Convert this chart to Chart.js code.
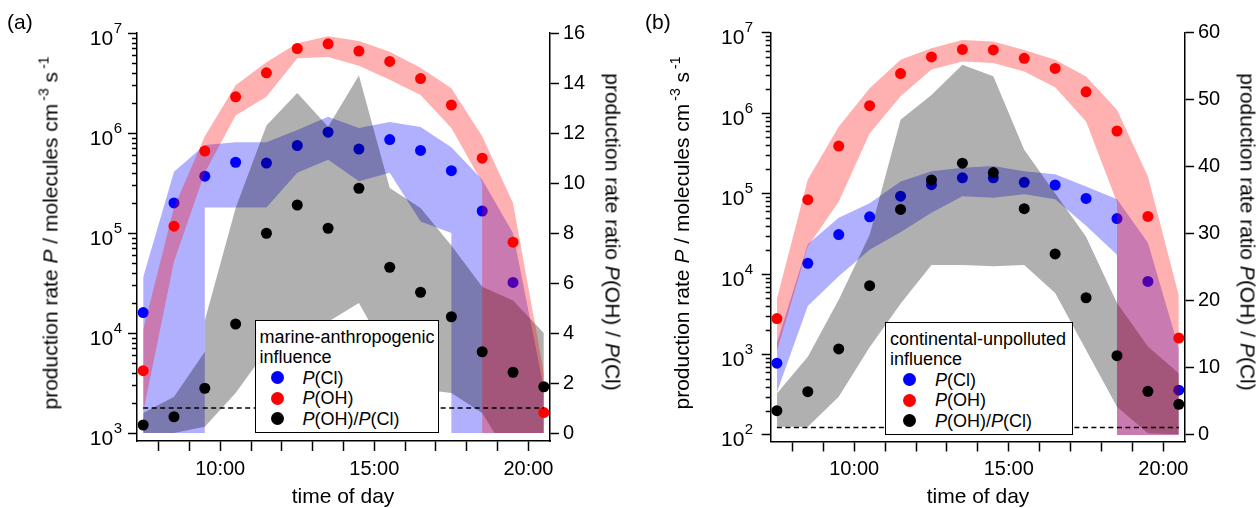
<!DOCTYPE html>
<html>
<head>
<meta charset="utf-8">
<script src="https://cdn.jsdelivr.net/npm/chart.js@4.4.1/dist/chart.umd.min.js"></script>
<style>
  body { margin: 0; background: #fff; font-family: 'Liberation Sans', Arial, sans-serif; color: #000; }
  #wrap { position: relative; width: 1259px; height: 508px; overflow: hidden; }
  canvas { position: absolute; top: 0; }
  .lab { position: absolute; white-space: nowrap; font-size: 21px; line-height: 1; }
  .rotL { transform: translate(-50%, -50%) rotate(-90deg); }
  .rotR { transform: translate(-50%, -50%) rotate(90deg); }
  .ctr { transform: translate(-50%, -50%); }
  .lab sup { font-size: 14px; vertical-align: baseline; position: relative; top: -9px; margin-left: 3px; }
  .legend { position: absolute; border: 1.5px solid #000; background: #fff; box-sizing: border-box;
            font-size: 18px; line-height: 20.5px; white-space: nowrap; }
  .legend .row { position: relative; }
  .legend .dot { position: absolute; top: 3.5px; width: 13px; height: 13px; border-radius: 50%; }
</style>
</head>
<body>
<div id="wrap">
  <canvas id="chartA" width="630" height="508" style="left:0"></canvas>
  <canvas id="chartB" width="629" height="508" style="left:630px"></canvas>

  <div class="lab" style="left:7px;top:11px">(a)</div>
  <div class="lab rotL" style="left:50px;top:233px">production rate <i>P</i> / molecules cm<sup>-3</sup> s<sup>-1</sup></div>
  <div class="lab rotR" style="left:613px;top:232px">production rate ratio <i>P</i>(OH) / <i>P</i>(Cl)</div>
  <div class="lab ctr" style="left:343px;top:495px">time of day</div>

  <div class="lab" style="left:645px;top:11px">(b)</div>
  <div class="lab rotL" style="left:681px;top:233px">production rate <i>P</i> / molecules cm<sup>-3</sup> s<sup>-1</sup></div>
  <div class="lab rotR" style="left:1248px;top:232px">production rate ratio <i>P</i>(OH) / <i>P</i>(Cl)</div>
  <div class="lab ctr" style="left:978px;top:495px">time of day</div>

  <div class="legend" style="left:255px;top:320px;width:184px;height:113px;padding:5.5px 0 0 3.5px">
    <div>marine-anthropogenic</div>
    <div>influence</div>
    <div class="row" style="padding-left:43px"><span class="dot" style="left:11px;background:#0000ff"></span><i>P</i>(Cl)</div>
    <div class="row" style="padding-left:43px"><span class="dot" style="left:11px;background:#ff0000"></span><i>P</i>(OH)</div>
    <div class="row" style="padding-left:43px"><span class="dot" style="left:11px;background:#000"></span><i>P</i>(OH)/<i>P</i>(Cl)</div>
  </div>
  <div class="legend" style="left:885px;top:321.7px;width:188px;height:113px;padding:6px 0 0 4px">
    <div>continental-unpolluted</div>
    <div>influence</div>
    <div class="row" style="padding-left:45px"><span class="dot" style="left:13px;background:#0000ff"></span><i>P</i>(Cl)</div>
    <div class="row" style="padding-left:45px"><span class="dot" style="left:13px;background:#ff0000"></span><i>P</i>(OH)</div>
    <div class="row" style="padding-left:45px"><span class="dot" style="left:13px;background:#000"></span><i>P</i>(OH)/<i>P</i>(Cl)</div>
  </div>
</div>

<script>
// hour of day of each hourly mean
var hours = [7.5, 8.5, 9.5, 10.5, 11.5, 12.5, 13.5, 14.5, 15.5, 16.5, 17.5, 18.5, 19.5, 20.5];
var hourTicks = [8, 9, 10, 11, 12, 13, 14, 15, 16, 17, 18, 19, 20];
var refRatio = 1;

// (a) marine-anthropogenic influence
var pClA = [1.6e4, 2.0e5, 3.7e5, 5.1e5, 5.0e5, 7.5e5, 1.02e6, 6.9e5, 8.6e5, 6.7e5, 4.2e5, 1.66e5, 3.2e4, null];
var pOHA = [4.2e3, 1.17e5, 6.6e5, 2.3e6, 4.0e6, 7.0e6, 7.8e6, 6.6e6, 5.2e6, 3.5e6, 1.9e6, 5.6e5, 8.1e4, 1.6e3];
var ratioA = [0.32, 0.65, 1.79, 4.36, 7.99, 9.12, 8.19, 9.79, 6.63, 5.63, 4.65, 3.25, 2.43, 1.85];
// shaded ranges, [hour, value]
var pClA_hi = [[7.5, 3.6e4], [8.5, 4.1e5], [9.5, 7.6e5], [10.5, 8.1e5], [11.5, 8.1e5], [12.5, 1.07e6], [13.5, 1.45e6],
               [14.5, 1.12e6], [15.5, 1.29e6], [16.5, 1.15e6], [17.5, 7.2e5], [18.5, 3.4e5], [19.5, 1.0e5], [20.5, 2.8e3]];
var pClA_lo = [[7.5, 1e3], [8.5, 1e3], [9.5, 1e3], [9.5, 1.8e5], [10.5, 1.8e5], [11.5, 1.8e5], [12.5, 4.0e5], [13.5, 5.4e5],
               [14.5, 3.3e5], [15.5, 4.0e5], [16.5, 1.3e5], [17.5, 1.0e5], [17.5, 1e3], [18.5, 1e3], [19.5, 1e3], [20.5, 1e3]];
var pOHA_hi = [[7.5, 1.07e4], [8.5, 1.8e5], [9.5, 9.3e5], [10.5, 3.0e6], [11.5, 5.1e6], [12.5, 7.9e6], [13.5, 9.3e6],
               [14.5, 8.3e6], [15.5, 6.5e6], [16.5, 4.5e6], [17.5, 2.8e6], [18.5, 9.3e5], [19.5, 2.0e5], [20.5, 4.0e3]];
var pOHA_lo = [[7.5, 1.6e3], [8.5, 5.2e4], [9.5, 4.0e5], [10.5, 1.5e6], [11.5, 2.3e6], [12.5, 5.6e6], [13.5, 5.75e6],
               [14.5, 4.7e6], [15.5, 3.4e6], [16.5, 2.4e6], [17.5, 1.12e6], [18.5, 3.2e5], [18.5, 1e3], [19.5, 1e3], [20.5, 1e3]];
var ratioA_hi = [[7.5, 0.8], [8.5, 1.45], [9.5, 3.25], [9.5, 4.5], [10.5, 9.0], [11.5, 12.3], [12.5, 13.6], [13.5, 12.25],
                 [14.5, 14.3], [15.5, 9.8], [16.5, 9.0], [17.5, 7.5], [18.5, 5.85], [19.5, 5.3], [20.5, 4.0]];
var ratioA_lo = [[7.5, 0], [8.5, 0], [9.5, 0.25], [10.5, 1.6], [11.5, 3.3], [12.5, 3.8], [13.5, 4.45], [14.5, 5.2],
                 [15.5, 3.0], [16.5, 1.75], [17.5, 1.6], [18.5, 0.8], [19.5, -1.2], [20.5, -1.2]];

// (b) continental-unpolluted influence
var pClB = [7.8e2, 1.36e4, 3.1e4, 5.15e4, 9.3e4, 1.29e5, 1.57e5, 1.57e5, 1.38e5, 1.28e5, 8.7e4, 4.9e4, 8.1e3, 3.6e2];
var pOHB = [2.8e3, 8.4e4, 3.9e5, 1.24e6, 3.1e6, 5.0e6, 6.2e6, 6.1e6, 4.8e6, 3.6e6, 1.84e6, 6.0e5, 5.2e4, 1.6e3];
var ratioB = [3.53, 6.37, 12.75, 22.2, 33.6, 38.0, 40.5, 39.1, 33.7, 26.95, 20.4, 11.75, 6.42, 4.48];
var pClB_hi = [[7.5, 1.4e3], [8.5, 2.35e4], [9.5, 5.0e4], [10.5, 7.6e4], [11.5, 1.41e5], [12.5, 1.9e5], [13.5, 2.1e5],
               [14.5, 2.2e5], [15.5, 1.9e5], [16.5, 1.74e5], [17.5, 1.23e5], [18.5, 8.5e4], [19.5, 2.45e4], [20.5, 1.2e3]];
var pClB_lo = [[7.5, 3.4e2], [8.5, 4.0e3], [9.5, 9.4e3], [10.5, 2.0e4], [11.5, 3.3e4], [12.5, 5.8e4], [13.5, 9.3e4],
               [14.5, 8.9e4], [15.5, 9.8e4], [16.5, 8.5e4], [17.5, 4.0e4], [18.5, 1.74e4], [18.5, 1e2], [19.5, 1e2], [20.5, 1e2]];
var pOHB_hi = [[7.5, 4.9e3], [8.5, 1.5e5], [9.5, 6.8e5], [10.5, 2.04e6], [11.5, 4.6e6], [12.5, 6.4e6], [13.5, 8.1e6],
               [14.5, 7.8e6], [15.5, 6.1e6], [16.5, 4.6e6], [17.5, 2.85e6], [18.5, 1.1e6], [19.5, 1.64e5], [20.5, 5.4e3]];
var pOHB_lo = [[7.5, 1.1e3], [8.5, 2.2e4], [9.5, 7.9e4], [10.5, 5.6e5], [11.5, 1.62e6], [12.5, 3.5e6], [13.5, 4.4e6],
               [14.5, 4.2e6], [15.5, 3.3e6], [16.5, 2.1e6], [17.5, 7.9e5], [18.5, 7.8e4], [18.5, 1e2], [19.5, 1e2], [20.5, 1e2]];
var ratioB_hi = [[7.5, 6.1], [8.5, 11.6], [9.5, 20.1], [10.5, 29.8], [11.5, 47.0], [12.5, 50.7], [13.5, 55.2],
                 [14.5, 53.5], [15.5, 42.5], [16.5, 36.0], [17.5, 29.5], [18.5, 19.6], [19.5, 13.1], [20.5, 9.1]];
var ratioB_lo = [[7.5, 1.14], [8.5, 1.14], [9.5, 5.6], [10.5, 13.0], [11.5, 19.5], [12.5, 25.3], [13.5, 25.3],
                 [14.5, 25.1], [15.5, 25.3], [16.5, 21.1], [17.5, 12.6], [18.5, 4.1], [19.5, 0.15], [20.5, 0]];

var FONT = 'Liberation Sans';
var blueFill = 'rgba(0, 0, 255, 0.31)';
var redFill = 'rgba(255, 0, 0, 0.31)';
var greyFill = 'rgba(0, 0, 0, 0.31)';

function pts(xs, ys) {
  return xs.map(function (x, i) { return { x: x, y: ys[i] }; });
}
function pairs(list) {
  return list.map(function (p) { return { x: p[0], y: p[1] }; });
}

// lower edge fills up to the upper edge (next dataset)
function band(hi, lo, axis, color, order) {
  return [
    { data: pairs(lo), yAxisID: axis, borderColor: 'transparent', borderWidth: 0, pointRadius: 0,
      backgroundColor: color, fill: '+1', order: order },
    { data: pairs(hi), yAxisID: axis, borderColor: 'transparent', borderWidth: 0, pointRadius: 0,
      fill: false, order: order }
  ];
}
function dots(ys, axis, color, order) {
  return { data: pts(hours, ys), yAxisID: axis, showLine: false, pointRadius: 5.5, pointBorderWidth: 0,
           pointBackgroundColor: color, borderColor: color, order: order };
}

// bands are cut at the bottom of the data range, the x axis sits a little lower
var floorClip = {
  id: 'floorClip',
  beforeDatasetsDraw: function (chart, args, opts) {
    var a = chart.chartArea;
    var yb = chart.scales.yL.getPixelForValue(opts.floor);
    chart.ctx.save();
    chart.ctx.beginPath();
    chart.ctx.rect(a.left, a.top, a.right - a.left, yb - a.top);
    chart.ctx.clip();
  },
  afterDatasetsDraw: function (chart) {
    chart.ctx.restore();
  }
};

// minor ticks and 10^n labels for the log axis
var logAxis = {
  id: 'logAxis',
  afterDraw: function (chart, args, opts) {
    var s = chart.scales.yL;
    var ctx = chart.ctx;
    var x0 = s.right;
    ctx.save();
    ctx.strokeStyle = '#000';
    ctx.fillStyle = '#000';
    ctx.lineWidth = 1.5;
    for (var e = opts.lo; e <= opts.hi; e++) {
      if (e < opts.hi) {
        for (var m = 2; m < 10; m++) {
          var ym = Math.round(s.getPixelForValue(m * Math.pow(10, e))) + 0.5;
          ctx.beginPath();
          ctx.moveTo(x0 - 5, ym);
          ctx.lineTo(x0, ym);
          ctx.stroke();
        }
      }
      var y = s.getPixelForValue(Math.pow(10, e));
      ctx.textAlign = 'right';
      ctx.textBaseline = 'alphabetic';
      ctx.font = '15px "' + FONT + '"';
      var ex = String(e);
      var w = ctx.measureText(ex).width;
      ctx.fillText(ex, x0 - opts.gap, y - 0.5);
      ctx.font = '21px "' + FONT + '"';
      ctx.fillText('10', x0 - opts.gap - w - 0.5, y + 11.5);
    }
    ctx.restore();
  }
};

function drawPanel(id, p) {
  var datasets = []
    .concat(band(p.clHi, p.clLo, 'yL', blueFill, 6))
    .concat([dots(p.cl, 'yL', '#0000ff', 5)])
    .concat(band(p.ratioHi, p.ratioLo, 'yR', greyFill, 4))
    .concat(band(p.ohHi, p.ohLo, 'yL', redFill, 3))
    .concat([dots(p.oh, 'yL', '#ff0000', 2)])
    .concat([{ data: [{ x: hours[0], y: refRatio }, { x: hours[hours.length - 1], y: refRatio }], yAxisID: 'yR',
               borderColor: '#000', borderWidth: 1.5, borderDash: [5, 3.5], pointRadius: 0, fill: false, order: 1 }])
    .concat([dots(p.ratio, 'yR', '#000000', 0)]);

  var axisGrid = { display: true, drawOnChartArea: false, drawTicks: true, tickLength: 9, tickWidth: 1.5, tickColor: '#000' };
  var axisBorder = { display: true, color: '#000', width: 1.5 };

  return new Chart(document.getElementById(id), {
    type: 'line',
    data: { datasets: datasets },
    plugins: [floorClip, logAxis],
    options: {
      responsive: false,
      animation: false,
      layout: { padding: { top: p.top, left: 0, right: 0, bottom: 0 } },
      elements: { line: { tension: 0 } },
      plugins: {
        legend: { display: false },
        tooltip: { enabled: false },
        floorClip: { floor: Math.pow(10, p.logLo) },
        logAxis: { lo: p.logLo, hi: 7, gap: p.labelGap }
      },
      scales: {
        x: {
          type: 'linear', min: 7.3, max: 20.7,
          afterBuildTicks: function (s) { s.ticks = hourTicks.map(function (v) { return { value: v }; }); },
          afterFit: function (s) { s.height = p.bottomH; },
          grid: Object.assign({}, axisGrid, { tickLength: 10 }),
          border: axisBorder,
          ticks: { autoSkip: false, maxRotation: 0, padding: 6, color: '#000', font: { family: FONT, size: 20 },
                   callback: function (v) { return v % 5 === 0 ? v + ':00' : ''; } }
        },
        yL: {
          type: 'logarithmic', position: 'left', min: p.yMin, max: 1e7,
          afterBuildTicks: function (s) {
            var t = [];
            for (var e = p.logLo; e <= 7; e++) t.push({ value: Math.pow(10, e) });
            s.ticks = t;
          },
          afterFit: function (s) { s.width = p.leftW; },
          grid: axisGrid,
          border: axisBorder,
          ticks: { display: false }
        },
        yR: {
          type: 'linear', position: 'right', min: p.rMin, max: p.rMax,
          afterBuildTicks: function (s) { s.ticks = p.rTicks.map(function (v) { return { value: v }; }); },
          afterFit: function (s) { s.width = p.rightW; },
          grid: axisGrid,
          border: axisBorder,
          ticks: { padding: 4, color: '#000', font: { family: FONT, size: 20 } }
        }
      }
    }
  });
}

drawPanel('chartA', {
  cl: pClA, oh: pOHA, ratio: ratioA,
  clHi: pClA_hi, clLo: pClA_lo, ohHi: pOHA_hi, ohLo: pOHA_lo, ratioHi: ratioA_hi, ratioLo: ratioA_lo,
  logLo: 3, yMin: Math.pow(10, 2.92), rMin: -0.32, rMax: 16, rTicks: [0, 2, 4, 6, 8, 10, 12, 14, 16],
  top: 33, bottomH: 67, leftW: 137, rightW: 80, labelGap: 15
});

drawPanel('chartB', {
  cl: pClB, oh: pOHB, ratio: ratioB,
  clHi: pClB_hi, clLo: pClB_lo, ohHi: pOHB_hi, ohLo: pOHB_lo, ratioHi: ratioB_hi, ratioLo: ratioB_lo,
  logLo: 2, yMin: Math.pow(10, 1.919), rMin: -1.08, rMax: 60, rTicks: [0, 10, 20, 30, 40, 50, 60],
  top: 32.7, bottomH: 66.5, leftW: 140.7, rightW: 74, labelGap: 17.5
});
</script>
</body>
</html>
